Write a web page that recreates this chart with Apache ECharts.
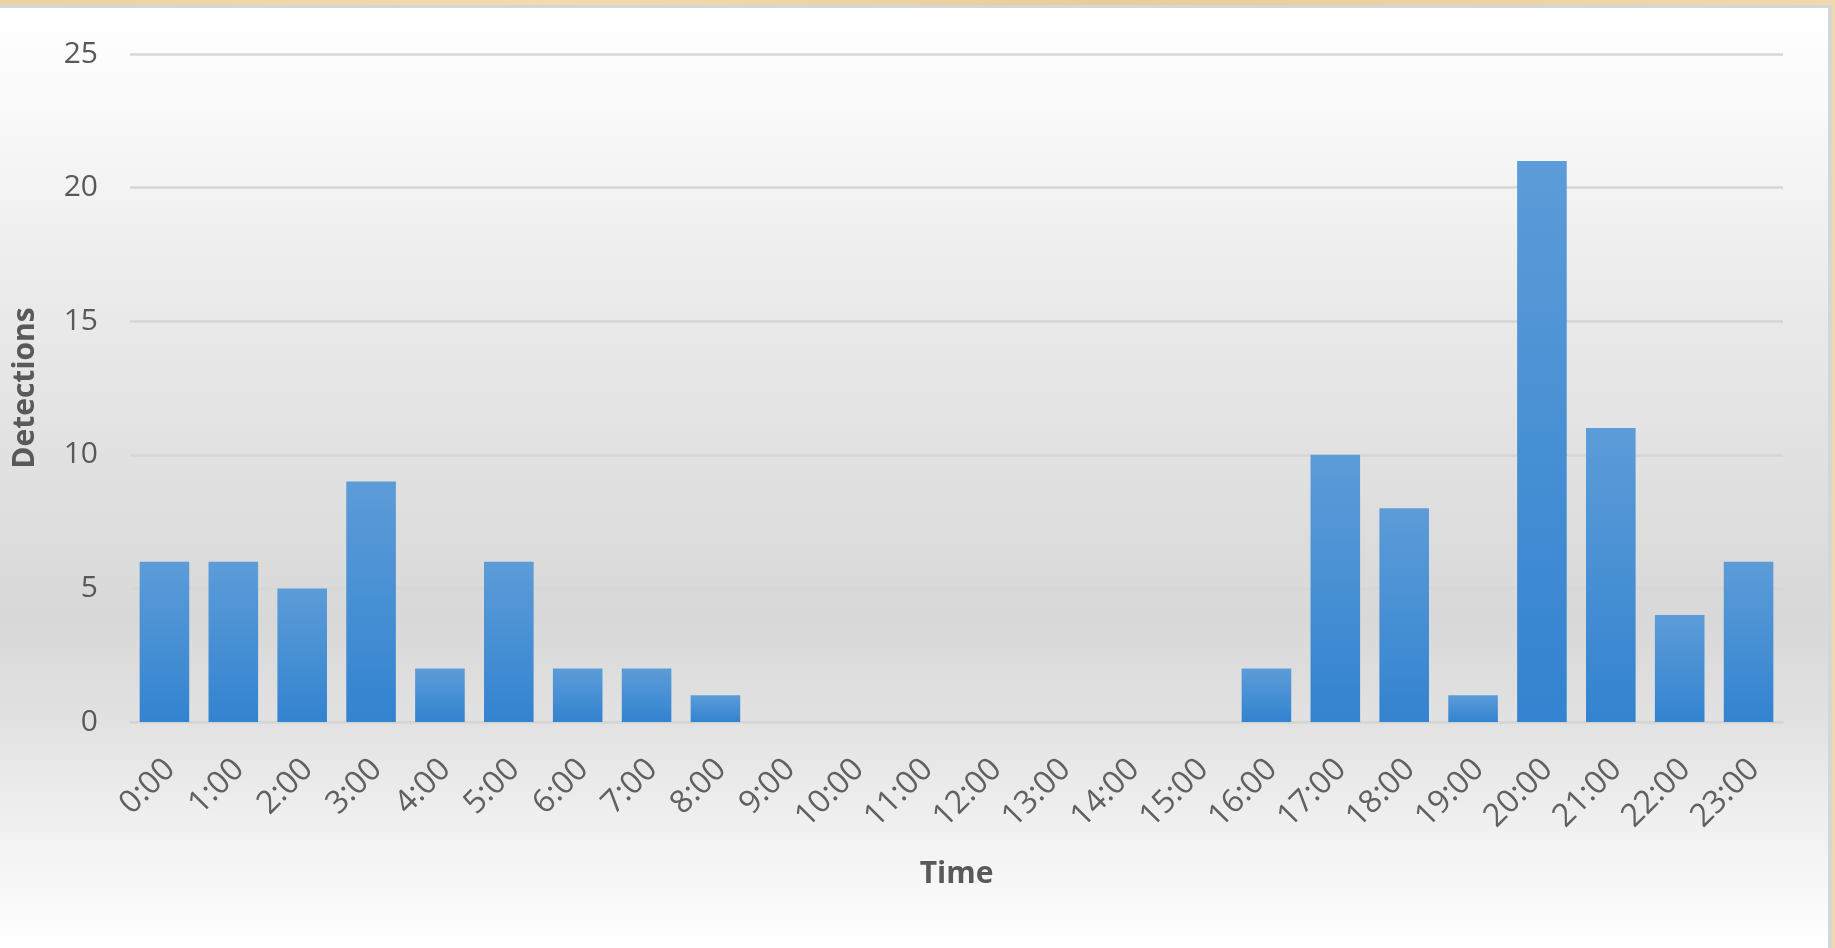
<!DOCTYPE html>
<html>
<head>
<meta charset="utf-8">
<script src="https://cdn.jsdelivr.net/npm/echarts@6/dist/echarts.min.js"></script>
<style>
  html, body { margin: 0; padding: 0; width: 1835px; height: 948px; overflow: hidden;
    background: linear-gradient(90deg, #e9d3a4, #f0dcb0 30%, #e6cd9c 60%, #efd9ad); }
  #frame { position: absolute; left: 0; top: 5px; width: 1832px; height: 943px; background: #d6d6d6; }
  #chart { position: absolute; left: 0; top: 8px; width: 1828px; height: 940px; }
</style>
</head>
<body>
<div id="frame"></div>
<div id="chart"></div>
<script>
const categories = ['0:00','1:00','2:00','3:00','4:00','5:00','6:00','7:00','8:00','9:00','10:00','11:00',
  '12:00','13:00','14:00','15:00','16:00','17:00','18:00','19:00','20:00','21:00','22:00','23:00'];
const detections = [6, 6, 5, 9, 2, 6, 2, 2, 1, 0, 0, 0, 0, 0, 0, 0, 2, 10, 8, 1, 21, 11, 4, 6];
const yTicks = { min: 0, max: 25, interval: 5 };
const xTitle = 'Time';
const yTitle = 'Detections';

const chart = echarts.init(document.getElementById('chart'));
const font = "'Open Sans', 'Noto Sans', sans-serif";
chart.setOption({
  animation: false,
  backgroundColor: new echarts.graphic.LinearGradient(0, 0, 0, 1, [
    { offset: 0, color: '#ffffff' },
    { offset: 0.1, color: '#fafafa' },
    { offset: 0.3, color: '#ebebeb' },
    { offset: 0.5, color: '#e0e0e0' },
    { offset: 0.65, color: '#d8d8d8' },
    { offset: 0.76, color: '#e2e2e2' },
    { offset: 0.86, color: '#efefef' },
    { offset: 0.94, color: '#f8f8f8' },
    { offset: 1, color: '#ffffff' }
  ]),
  grid: { left: 130, right: 45, top: 46, bottom: 226, containLabel: false },
  xAxis: {
    type: 'category',
    data: categories,
    name: xTitle,
    nameLocation: 'middle',
    nameGap: 137,
    nameTextStyle: { fontFamily: font, fontSize: 30, fontWeight: 'bold', color: '#595959' },
    axisLine: { show: true, lineStyle: { color: '#d4d4d4', width: 2 } },
    axisTick: { show: false },
    axisLabel: { interval: 0, rotate: 45, margin: 48, padding: [0, -8, 0, 0],
      fontFamily: font, fontSize: 32, color: '#606060' }
  },
  yAxis: {
    type: 'value',
    min: yTicks.min, max: yTicks.max, interval: yTicks.interval,
    name: yTitle,
    nameLocation: 'middle',
    nameGap: 90,
    nameRotate: 90,
    nameTextStyle: { fontFamily: font, fontSize: 30, fontWeight: 'bold', color: '#595959' },
    axisLine: { show: false },
    axisTick: { show: false },
    axisLabel: { margin: 32, fontFamily: font, fontSize: 30, color: '#595959' },
    splitLine: { lineStyle: { color: '#d6d6d6', width: 2.5 } }
  },
  series: [{
    type: 'bar',
    data: detections,
    barCategoryGap: '28%',
    itemStyle: {
      color: new echarts.graphic.LinearGradient(0, 0, 0, 1, [
        { offset: 0, color: '#5c9cd8' },
        { offset: 1, color: '#3383d0' }
      ])
    }
  }]
});
</script>
</body>
</html>
